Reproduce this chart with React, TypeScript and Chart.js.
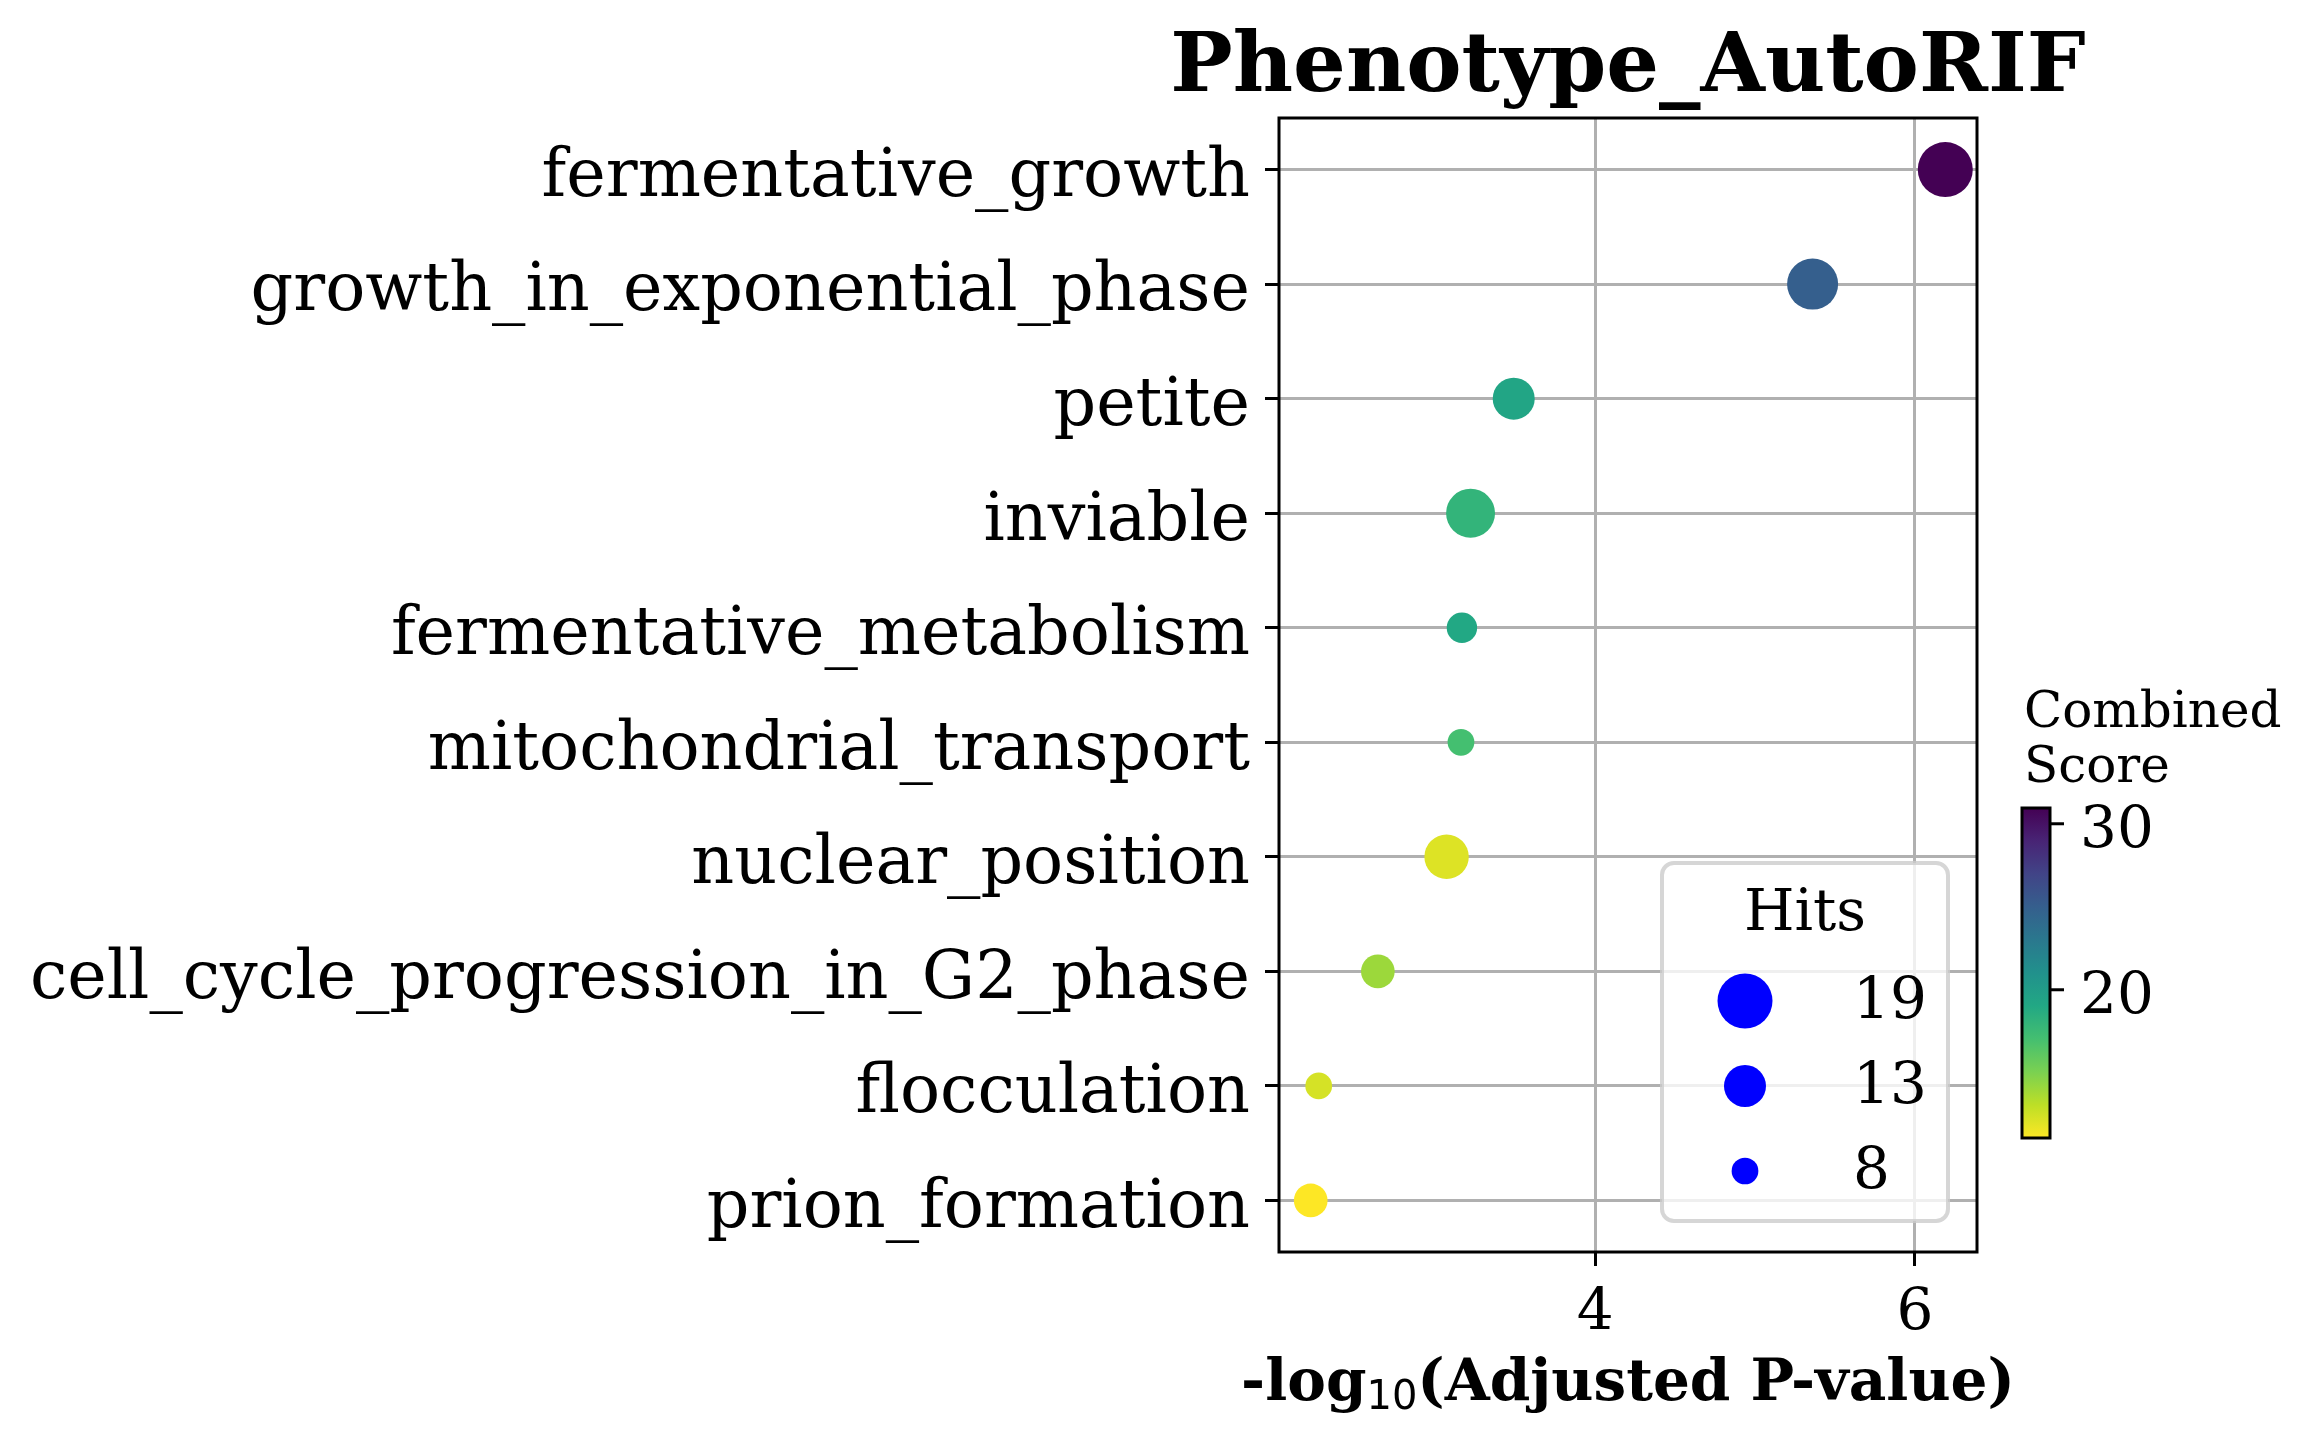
import React, { useEffect, useRef } from "react";
import { Chart, registerables } from "chart.js";

Chart.register(...registerables);

// ---------------- data ----------------
const chartTitle = "Phenotype_AutoRIF";
const terms = [
  "fermentative_growth",
  "growth_in_exponential_phase",
  "petite",
  "inviable",
  "fermentative_metabolism",
  "mitochondrial_transport",
  "nuclear_position",
  "cell_cycle_progression_in_G2_phase",
  "flocculation",
  "prion_formation",
];
const negLogPadj = [6.19, 5.36, 3.49, 3.22, 3.166, 3.16, 3.07, 2.64, 2.27, 2.22];
const hits = [19, 17, 13, 16, 9, 8, 14, 10, 8, 10];
const combinedScore = [30.95, 25.0, 19.3, 18.0, 19.0, 17.03, 12.06, 14.05, 12.3, 11.07];
const xTicks = [4, 6];
const legendHits = [19, 13, 8];
const colorbarTicks = [20, 30];
const legendTitle = "Hits";
const colorbarTitle = ["Combined", "Score"];

// ---------------- styling helpers ----------------
const FONT = '"DejaVu Serif"';
const VIRIDIS = [
  "#440154", "#482475", "#414487", "#355f8d", "#2a788e", "#21918c",
  "#22a884", "#44bf70", "#7ad151", "#bddf26", "#fde725",
];
function hexToRgb(h: string) {
  const n = parseInt(h.slice(1), 16);
  return [(n >> 16) & 255, (n >> 8) & 255, n & 255];
}
function viridis(t: number) {
  const c = Math.max(0, Math.min(1, t)) * (VIRIDIS.length - 1);
  const i = Math.min(VIRIDIS.length - 2, Math.floor(c));
  const f = c - i;
  const a = hexToRgb(VIRIDIS[i]);
  const b = hexToRgb(VIRIDIS[i + 1]);
  const m = a.map((v, k) => Math.round(v + (b[k] - v) * f));
  return `rgb(${m[0]},${m[1]},${m[2]})`;
}
const vmin = Math.min(...combinedScore);
const vmax = Math.max(...combinedScore);
function scoreColor(s: number) {
  return viridis(1 - (s - vmin) / (vmax - vmin));
}
function sizeRadius(h: number) {
  return Math.sqrt(Math.max(1, 210 * h - 965)) / 2;
}

const xDataMin = Math.min(...negLogPadj);
const xDataMax = Math.max(...negLogPadj);
const xPad = (xDataMax - xDataMin) * 0.05;
const yPad = (terms.length - 1) * 0.05;

const overlayPlugin = {
  id: "overlay",
  afterDraw(chart: any) {
    const ctx = chart.ctx as CanvasRenderingContext2D;
    const a = chart.chartArea;
    ctx.save();

    // spines
    ctx.strokeStyle = "#000";
    ctx.lineWidth = 3;
    ctx.strokeRect(a.left, a.top, a.right - a.left, a.bottom - a.top);

    // legend
    const lx = 1662, ly = 863, lw = 286, lh = 358, rr = 12;
    ctx.beginPath();
    ctx.moveTo(lx + rr, ly);
    ctx.arcTo(lx + lw, ly, lx + lw, ly + lh, rr);
    ctx.arcTo(lx + lw, ly + lh, lx, ly + lh, rr);
    ctx.arcTo(lx, ly + lh, lx, ly, rr);
    ctx.arcTo(lx, ly, lx + lw, ly, rr);
    ctx.closePath();
    ctx.fillStyle = "rgba(255,255,255,0.8)";
    ctx.fill();
    ctx.strokeStyle = "rgba(204,204,204,0.8)";
    ctx.lineWidth = 4;
    ctx.stroke();

    ctx.fillStyle = "#000";
    ctx.font = `58px ${FONT}`;
    ctx.textAlign = "center";
    ctx.textBaseline = "alphabetic";
    ctx.fillText(legendTitle, lx + lw / 2, 930);
    legendHits.forEach((h, i) => {
      const cy = 1001 + i * 85;
      ctx.beginPath();
      ctx.arc(1745, cy, sizeRadius(h), 0, Math.PI * 2);
      ctx.fillStyle = "#0000ff";
      ctx.fill();
      ctx.fillStyle = "#000";
      ctx.textAlign = "left";
      ctx.fillText(String(h), 1853, cy + 17);
    });

    // title
    const cx = (a.left + a.right) / 2;
    ctx.font = `bold 83px ${FONT}`;
    ctx.textAlign = "center";
    ctx.fillText(chartTitle, cx, 91);

    // x label with subscript
    const p1 = "-log", sub = "10", p2 = "(Adjusted P-value)";
    const fBold = `bold 58px ${FONT}`;
    const fSub = `40px "DejaVu Sans"`;
    ctx.font = fBold;
    const w1 = ctx.measureText(p1).width;
    const w3 = ctx.measureText(p2).width;
    ctx.font = fSub;
    const w2 = ctx.measureText(sub).width;
    let x0 = cx - (w1 + w2 + w3) / 2;
    ctx.textAlign = "left";
    ctx.font = fBold;
    ctx.fillText(p1, x0, 1400);
    x0 += w1;
    ctx.font = fSub;
    ctx.fillText(sub, x0, 1409);
    x0 += w2;
    ctx.font = fBold;
    ctx.fillText(p2, x0, 1400);

    // colorbar
    const cbx = 2022, cbw = 28, cbTop = 808, cbBot = 1138;
    const g = ctx.createLinearGradient(0, cbTop, 0, cbBot);
    VIRIDIS.forEach((c, i) => g.addColorStop(i / (VIRIDIS.length - 1), c));
    ctx.fillStyle = g;
    ctx.fillRect(cbx, cbTop, cbw, cbBot - cbTop);
    ctx.strokeStyle = "#000";
    ctx.lineWidth = 3;
    ctx.strokeRect(cbx, cbTop, cbw, cbBot - cbTop);
    ctx.font = `58px ${FONT}`;
    ctx.fillStyle = "#000";
    colorbarTicks.forEach((v) => {
      const y = cbBot - ((v - vmin) / (vmax - vmin)) * (cbBot - cbTop);
      ctx.beginPath();
      ctx.moveTo(cbx + cbw, y);
      ctx.lineTo(cbx + cbw + 14, y);
      ctx.stroke();
      ctx.fillText(String(v), 2080, y + 23);
    });
    ctx.font = `50px ${FONT}`;
    ctx.fillText(colorbarTitle[0], 2024, 727);
    ctx.fillText(colorbarTitle[1], 2024, 782);

    ctx.restore();
  },
};

export default function App() {
  const ref = useRef<HTMLCanvasElement>(null);
  useEffect(() => {
    const chart = new Chart(ref.current as HTMLCanvasElement, {
      type: "scatter",
      data: {
        datasets: [
          {
            data: terms.map((_, i) => ({ x: negLogPadj[i], y: i })),
            pointRadius: hits.map((h) => sizeRadius(h)),
            pointHoverRadius: hits.map((h) => sizeRadius(h)),
            pointBackgroundColor: combinedScore.map((s) => scoreColor(s)),
            pointBorderWidth: 0,
            pointBorderColor: "rgba(0,0,0,0)",
          },
        ],
      },
      options: {
        responsive: false,
        animation: false,
        devicePixelRatio: 1,
        layout: { padding: { top: 118, left: 0, right: 332, bottom: 0 } },
        plugins: {
          legend: { display: false },
          tooltip: { enabled: false },
          title: { display: false },
        },
        scales: {
          x: {
            type: "linear",
            position: "bottom",
            bounds: "data",
            min: xDataMin - xPad,
            max: xDataMax + xPad,
            afterFit: (s: any) => {
              s.height = 192;
            },
            afterBuildTicks: (s: any) => {
              s.ticks = xTicks.map((v) => ({ value: v }));
            },
            grid: {
              color: "#b0b0b0",
              lineWidth: 3,
              drawTicks: true,
              tickLength: 14,
              tickColor: "#000",
              tickWidth: 3,
            },
            border: { display: false },
            ticks: {
              color: "#000",
              font: { family: "DejaVu Serif", size: 58 },
              padding: 13,
              maxRotation: 0,
              minRotation: 0,
              autoSkip: false,
            },
          },
          y: {
            type: "linear",
            bounds: "data",
            reverse: true,
            min: -yPad,
            max: terms.length - 1 + yPad,
            afterFit: (s: any) => {
              s.width = 1279;
            },
            afterBuildTicks: (s: any) => {
              s.ticks = terms.map((_, i) => ({ value: i }));
            },
            grid: {
              color: "#b0b0b0",
              lineWidth: 3,
              drawTicks: true,
              tickLength: 14,
              tickColor: "#000",
              tickWidth: 3,
            },
            border: { display: false },
            ticks: {
              color: "#000",
              font: { family: "DejaVu Serif", size: 66.7 },
              padding: 15,
              labelOffset: 9,
              autoSkip: false,
              callback: (v: any) => terms[Math.round(Number(v))],
            },
          },
        },
      },
      plugins: [overlayPlugin],
    } as any);
    return () => chart.destroy();
  }, []);
  return (
    <div style={{ position: "absolute", left: 0, top: 0, width: 2309, height: 1444, background: "#fff" }}>
      <canvas
        ref={ref}
        width={2309}
        height={1444}
        style={{ width: "2309px", height: "1444px", display: "block" }}
      />
    </div>
  );
}
